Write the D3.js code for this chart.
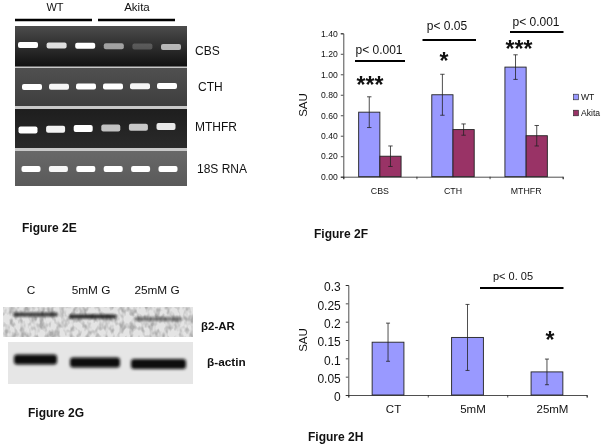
<!DOCTYPE html>
<html><head><meta charset="utf-8">
<style>html,body{margin:0;padding:0;background:#fff}svg{display:block;filter:blur(.35px)}text{font-family:"Liberation Sans",Arial,sans-serif;fill:#111}</style>
<script src="https://cdn.jsdelivr.net/npm/d3@7"></script></head><body>
<svg id="c" width="604" height="446"></svg>
<script>
// ---- data
const catsF=["CBS","CTH","MTHFR"];
const seriesF=["WT","Akita"];
const wtF=[0.63,0.80,1.07];
const akitaF=[0.20,0.46,0.40];
const wtErrF=[0.15,0.20,0.12];
const akitaErrF=[0.10,0.055,0.10];
const ticksF=[0,0.2,0.4,0.6,0.8,1.0,1.2,1.4];
const catsH=["CT","5mM","25mM"];
const valuesH=[0.144,0.157,0.063];
const errH=[0.052,0.09,0.035];
const ticksH=[0,0.05,0.1,0.15,0.2,0.25,0.3];
const tickLabelsH=["0","0.05","0.1","0.15","0.2","0.25","0.3"];
const lanes=[1,2,3,4,5,6];
const gelNames=["CBS","CTH","MTHFR","18S RNA"];
const gelCBS=[1,.85,1,.55,.2,.65];
const gelCTH=[1,.95,1,1,.95,1];
const gelMTHFR=[1,.95,1,.72,.75,.9];
const gel18S=[1,.95,1,1,1,1];
const blotLanes=["C","5mM G","25mM G"];
const blotB2=[.7,.8,.45];
const blotActin=[1,1,1];

const colWT="#9999ff",colAk="#993366";
const svg=d3.select("#c");
const defs=svg.append("defs");
const blur=(id,s)=>defs.append("filter").attr("id",id).attr("x","-30%").attr("y","-100%").attr("width","160%").attr("height","300%").append("feGaussianBlur").attr("stdDeviation",s);
blur("b1",0.6);blur("b2",1.5);blur("b3",1);
const nf=defs.append("filter").attr("id","noise").attr("x",0).attr("y",0).attr("width","100%").attr("height","100%").attr("color-interpolation-filters","sRGB");
nf.append("feTurbulence").attr("type","fractalNoise").attr("baseFrequency","0.2 0.13").attr("numOctaves",2).attr("seed",7);
nf.append("feColorMatrix").attr("values","0 0 0 0 .68  0 0 0 0 .68  0 0 0 0 .68  3 0 0 0 -1.25");
nf.append("feGaussianBlur").attr("stdDeviation",0.7);
nf.append("feComposite").attr("in2","SourceGraphic").attr("operator","in");
const grad=(id,top,bot)=>{const g=defs.append("linearGradient").attr("id",id).attr("x1",0).attr("x2",0).attr("y1",0).attr("y2",1);
 g.append("stop").attr("offset",0).attr("stop-color",top);g.append("stop").attr("offset",1).attr("stop-color",bot);};
grad("g0","#4c4c4c","#111");grad("g1","#505050","#3e3e3e");grad("g2","#1e1e1e","#2a2a2a");grad("g3","#686868","#5a5a5a");

function txt(g,x,y,s,size,o={}){return g.append("text").attr("x",x).attr("y",y).attr("font-size",size)
 .attr("text-anchor",o.anchor||"start").attr("font-weight",o.bold?"bold":null).attr("dominant-baseline","central").text(s);}
function hl(g,x1,x2,y,w){g.append("line").attr("x1",x1).attr("x2",x2).attr("y1",y).attr("y2",y).attr("stroke","#000").attr("stroke-width",w);}

// ---- Panel E: gel
const E=svg.append("g");
txt(E,55,7,"WT",11,{anchor:"middle"});txt(E,137,7,"Akita",11.5,{anchor:"middle"});
hl(E,15,92,20,2.5);hl(E,98,175,20,2.5);
E.append("rect").attr("x",15).attr("y",26).attr("width",172).attr("height",160).attr("fill","#c8c8c8");
const gels=[
 {v:gelCBS,y0:26,y1:66.5,fill:"g0",r:[28,171],by:[45,47],bw:20,bh:6,lx:195,ly:51},
 {v:gelCTH,y0:68,y1:106,fill:"g1",r:[32,167],by:[87,86],bw:20,bh:6,lx:198,ly:87},
 {v:gelMTHFR,y0:109,y1:148,fill:"g2",r:[28,166],by:[130,126.5],bw:19,bh:7,lx:195,ly:127},
 {v:gel18S,y0:151,y1:186,fill:"g3",r:[31,168],by:[169,169],bw:19,bh:6,lx:197,ly:169}];
gels.forEach((p,i)=>{
 const x=d3.scalePoint().domain(lanes).range(p.r),y=d3.scalePoint().domain(lanes).range(p.by);
 E.append("rect").attr("x",15).attr("y",p.y0).attr("width",172).attr("height",p.y1-p.y0).attr("fill",`url(#${p.fill})`);
 E.selectAll(null).data(lanes).join("rect")
  .attr("x",d=>x(d)-p.bw/2).attr("y",d=>y(d)-p.bh/2).attr("width",p.bw).attr("height",p.bh).attr("rx",2)
  .attr("fill","#fff").attr("opacity",(d,j)=>p.v[j]).attr("filter","url(#b1)");
 txt(E,p.lx,p.ly,gelNames[i],12);
});
txt(E,22,228,"Figure 2E",12,{bold:true});

// ---- Panel F
const F=svg.append("g");
const xF=d3.scaleBand().domain(catsF).range([343.3,562.7]).paddingInner(.42).paddingOuter(.21);
const xFs=d3.scaleBand().domain(seriesF).range([0,xF.bandwidth()]);
const yF=d3.scaleLinear().domain([0,1.4]).range([176.7,33.3]);
const seriesDataF=[[wtF,wtErrF,colWT,"WT"],[akitaF,akitaErrF,colAk,"Akita"]];
seriesDataF.forEach(([v,e,c,n])=>{
 const X=(i)=>xF(catsF[i])+xFs(n);
 F.selectAll(null).data(v).join("rect").attr("x",(d,i)=>X(i)).attr("y",d=>yF(d)).attr("width",xFs.bandwidth()).attr("height",d=>yF(0)-yF(d))
  .attr("fill",c).attr("stroke","#222").attr("stroke-width",.9);
 v.forEach((d,i)=>{const cx=X(i)+xFs.bandwidth()/2;const g=F.append("g").attr("stroke","#222").attr("stroke-width",.8);
  g.append("line").attr("x1",cx).attr("x2",cx).attr("y1",yF(d+e[i])).attr("y2",yF(d-e[i]));
  [d+e[i],d-e[i]].forEach(q=>g.append("line").attr("x1",cx-2.2).attr("x2",cx+2.2).attr("y1",yF(q)).attr("y2",yF(q)));});
});
const axFy=F.append("g").attr("transform","translate(343.3,0)").call(d3.axisLeft(yF).tickValues(ticksF).tickFormat(d3.format(".2f")).tickSize(2.5).tickPadding(3));
const axFx=F.append("g").attr("transform","translate(0,176.7)").call(d3.axisBottom(d3.scaleLinear().domain([0,3]).range([343.3,562.7])).ticks(3).tickSize(2.5).tickFormat(""));
catsF.forEach(c=>txt(F,xF(c)+xF.bandwidth()/2,190.5,c,8.8,{anchor:"middle"}));
[axFy,axFx].forEach(a=>{a.selectAll("text").attr("font-size",8.6).attr("fill","#111").attr("font-family",null);a.selectAll("path,line").attr("stroke","#222").attr("stroke-width",.8);});
F.append("text").attr("transform","translate(303,105) rotate(-90)").attr("text-anchor","middle").attr("dominant-baseline","central").attr("font-size",11.5).text("SAU");
[[colWT,97,"WT"],[colAk,113,"Akita"]].forEach(([c,y,n])=>{
 F.append("rect").attr("x",573.5).attr("y",y-2.8).attr("width",5).attr("height",5.6).attr("fill",c).attr("stroke","#222").attr("stroke-width",.6);
 txt(F,581,y,n,8.6);});
txt(F,379,49.5,"p< 0.001",12,{anchor:"middle"});hl(F,355,405,61,2);
txt(F,447,26,"p< 0.05",12,{anchor:"middle"});hl(F,422.5,476,40,2);
txt(F,536,22,"p< 0.001",12,{anchor:"middle"});hl(F,510,563.5,32,2);
txt(F,370,84.5,"***",23,{anchor:"middle",bold:true});
txt(F,444,60.5,"*",23,{anchor:"middle",bold:true});
txt(F,519,48.5,"***",23,{anchor:"middle",bold:true});
txt(F,314,234,"Figure 2F",12,{bold:true});

// ---- Panel G: blot
const G=svg.append("g");
[["C",31],["5mM G",91],["25mM G",157]].forEach(([s,x])=>txt(G,x,290,s,11.8,{anchor:"middle"}));
G.append("rect").attr("x",3).attr("y",307).attr("width",190).attr("height",30).attr("fill","#e4e4e4");
G.append("rect").attr("x",3).attr("y",307).attr("width",190).attr("height",30).attr("fill","#fff").attr("filter","url(#noise)");
G.append("rect").attr("x",8).attr("y",342).attr("width",185).attr("height",42).attr("fill","#e6e6e6");
const blots=[
 {v:blotB2,x:[[13,58],[69,116],[134,182]],y:[314.5,316.5,319],h:4.5,f:"b3"},
 {v:blotActin,x:[[14,57],[70,120],[131,186]],y:[359.5,362.5,364],h:10,f:"b2"}];
blots.forEach(b=>G.selectAll(null).data(b.v).join("rect")
 .attr("x",(d,i)=>b.x[i][0]).attr("width",(d,i)=>b.x[i][1]-b.x[i][0]).attr("y",(d,i)=>b.y[i]-b.h/2).attr("height",b.h).attr("rx",3)
 .attr("fill","#0c0c0c").attr("opacity",d=>d).attr("filter",`url(#${b.f})`));
txt(G,201,325.5,"β2-AR",11.5,{bold:true});
txt(G,207,362,"β-actin",11.8,{bold:true});
txt(G,28,412.5,"Figure 2G",12,{bold:true});

// ---- Panel H
const H=svg.append("g");
const xH=d3.scaleBand().domain(catsH).range([348.3,586.7]).paddingInner(.6).paddingOuter(.3);
const yH=d3.scaleLinear().domain([0,.3]).range([395,285]);
H.selectAll(null).data(valuesH).join("rect").attr("x",(d,i)=>xH(catsH[i])).attr("y",d=>yH(d)).attr("width",xH.bandwidth()).attr("height",d=>yH(0)-yH(d))
 .attr("fill",colWT).attr("stroke","#222").attr("stroke-width",.9);
valuesH.forEach((d,i)=>{const cx=xH(catsH[i])+xH.bandwidth()/2;const g=H.append("g").attr("stroke","#222").attr("stroke-width",.8);
 g.append("line").attr("x1",cx).attr("x2",cx).attr("y1",yH(d+errH[i])).attr("y2",yH(d-errH[i]));
 [d+errH[i],d-errH[i]].forEach(q=>g.append("line").attr("x1",cx-2).attr("x2",cx+2).attr("y1",yH(q)).attr("y2",yH(q)));});
const axHy=H.append("g").attr("transform","translate(348.3,0)").call(d3.axisLeft(yH).tickValues(ticksH).tickFormat((d,i)=>tickLabelsH[i]).tickSize(2.5).tickPadding(5));
const axHx=H.append("g").attr("transform","translate(0,395)").call(d3.axisBottom(d3.scaleLinear().domain([0,3]).range([348.3,586.7])).ticks(3).tickSize(2.5).tickFormat(""));
[axHy,axHx].forEach(a=>{a.selectAll("text").attr("font-size",12).attr("y",2).attr("fill","#111").attr("font-family",null);a.selectAll("path,line").attr("stroke","#222").attr("stroke-width",.8);});
catsH.forEach(c=>txt(H,xH(c)+xH.bandwidth()/2+5.5,408.5,c,11.5,{anchor:"middle"}));
H.append("text").attr("transform","translate(303,340) rotate(-90)").attr("text-anchor","middle").attr("dominant-baseline","central").attr("font-size",11.5).text("SAU");
txt(H,513,276,"p< 0. 05",11,{anchor:"middle"});hl(H,480,563.5,288,2.2);
txt(H,550,339.5,"*",23,{anchor:"middle",bold:true});
txt(H,308,437,"Figure 2H",12,{bold:true});
</script></body></html>
